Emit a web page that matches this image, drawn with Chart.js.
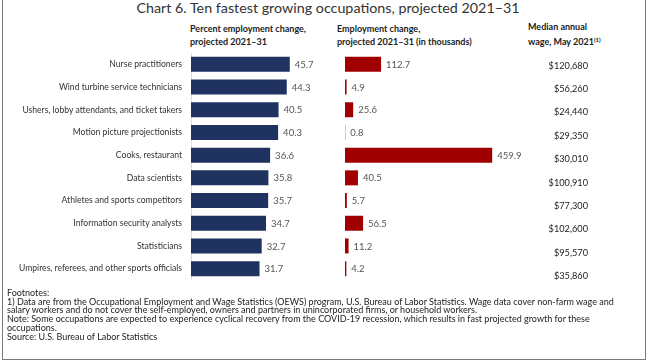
<!DOCTYPE html>
<html>
<head>
<meta charset="utf-8">
<script src="https://cdn.jsdelivr.net/npm/chart.js@4"></script>
<style>
  html, body { margin: 0; padding: 0; background: #fff; }
  body { width: 650px; height: 363px; position: relative; overflow: hidden; font-family: Lato, "Liberation Sans", sans-serif; color: #333; }
  .abs { position: absolute; }
  #frame { left: 2px; top: -2px; width: 644px; height: 362px; border: 1.5px solid #7a7a7a; border-top: none; box-sizing: border-box; }
  #title { left: 0; width: 656px; top: -1px; text-align: center; font-size: 14.3px; color: #333; white-space: nowrap; }
  .head { font-size: 9px; font-weight: bold; line-height: 13px; color: #222; white-space: nowrap; }
  .head sup { font-size: 6px; vertical-align: 3px; }
  #notes { left: 7px; top: 289px; font-size: 9px; line-height: 8.7px; color: #222; white-space: nowrap; }
</style>
</head>
<body>
<div id="frame" class="abs"></div>
<div id="title" class="abs">Chart 6. Ten fastest growing occupations, projected 2021–31</div>
<div class="abs head" style="left:190px; top:22px;">Percent employment change,<br>projected 2021–31</div>
<div class="abs head" style="left:337px; top:22px;">Employment change,<br>projected 2021–31 (in thousands)</div>
<div class="abs head" style="left:528px; top:20px;">Median annual<br>wage, May 2021<sup>(1)</sup></div>

<canvas id="pctChart" class="abs" width="338" height="227" style="left:0; top:53px;"></canvas>
<canvas id="numChart" class="abs" width="176" height="227" style="left:345px; top:53px;"></canvas>
<canvas id="wageChart" class="abs" width="100" height="234" style="left:500px; top:54px;"></canvas>

<div id="notes" class="abs">
Footnotes:<br>
1) Data are from the Occupational Employment and Wage Statistics (OEWS) program, U.S. Bureau of Labor Statistics. Wage data cover non-farm wage and<br>
salary workers and do not cover the self-employed, owners and partners in unincorporated firms, or household workers.<br>
Note: Some occupations are expected to experience cyclical recovery from the COVID-19 recession, which results in fast projected growth for these<br>
occupations.<br>
Source: U.S. Bureau of Labor Statistics
</div>

<script>
const occupations = [
  'Nurse practitioners',
  'Wind turbine service technicians',
  'Ushers, lobby attendants, and ticket takers',
  'Motion picture projectionists',
  'Cooks, restaurant',
  'Data scientists',
  'Athletes and sports competitors',
  'Information security analysts',
  'Statisticians',
  'Umpires, referees, and other sports officials'
];
const pctChange = [45.7, 44.3, 40.5, 40.3, 36.6, 35.8, 35.7, 34.7, 32.7, 31.7];
const numChange = [112.7, 4.9, 25.6, 0.8, 459.9, 40.5, 5.7, 56.5, 11.2, 4.2];
const wages = ['$120,680', '$56,260', '$24,440', '$29,350', '$30,010', '$100,910', '$77,300', '$102,600', '$95,570', '$35,860'];

const FONT = 'Lato, "Liberation Sans", sans-serif';

// numbers written just past the end of each bar
const valueLabels = {
  id: 'valueLabels',
  afterDatasetsDraw(chart) {
    const ctx = chart.ctx;
    const meta = chart.getDatasetMeta(0);
    ctx.save();
    ctx.font = '9.5px ' + FONT;
    ctx.fillStyle = '#555';
    ctx.textBaseline = 'middle';
    meta.data.forEach((bar, i) => {
      ctx.fillText(chart.data.datasets[0].data[i].toFixed(1), bar.x + 5, bar.y + 0.5);
    });
    ctx.restore();
  }
};

new Chart(document.getElementById('pctChart'), {
  type: 'bar',
  data: { labels: occupations, datasets: [{ data: pctChange, backgroundColor: '#1f3260', categoryPercentage: 1, barPercentage: 0.66 }] },
  options: {
    responsive: false, animation: false, indexAxis: 'y',
    layout: { padding: 0 },
    plugins: { legend: { display: false }, tooltip: { enabled: false } },
    scales: {
      x: { display: false, min: 0, max: 68 },
      y: {
        grid: { display: false, drawTicks: false },
        border: { display: true, color: '#dcdcdc', width: 1 },
        ticks: { color: '#333', font: { family: FONT, size: 8.6 }, padding: 9 },
        afterFit(scale) { scale.width = 191; scale.paddingTop = 0; scale.paddingBottom = 0; }
      }
    }
  },
  plugins: [valueLabels]
});

new Chart(document.getElementById('numChart'), {
  type: 'bar',
  data: { labels: occupations, datasets: [{ data: numChange, backgroundColor: '#a10000', categoryPercentage: 1, barPercentage: 0.66 }] },
  options: {
    responsive: false, animation: false, indexAxis: 'y',
    layout: { padding: 0 },
    plugins: { legend: { display: false }, tooltip: { enabled: false } },
    scales: {
      x: { display: false, min: 0, max: 550 },
      y: { display: false }
    }
  },
  plugins: [valueLabels]
});

// wage column: the category axis carries the text
new Chart(document.getElementById('wageChart'), {
  type: 'bar',
  data: { labels: wages, datasets: [{ data: [] }] },
  options: {
    responsive: false, animation: false, indexAxis: 'y',
    layout: { padding: 0 },
    plugins: { legend: { display: false }, tooltip: { enabled: false } },
    scales: {
      x: { display: false },
      y: {
        grid: { display: false, drawTicks: false },
        border: { display: false },
        ticks: { color: '#222', font: { family: FONT, size: 9.2 }, padding: 0 },
        afterFit(scale) { scale.width = 88; scale.paddingTop = 0; scale.paddingBottom = 0; }
      }
    }
  }
});
</script>
</body>
</html>
